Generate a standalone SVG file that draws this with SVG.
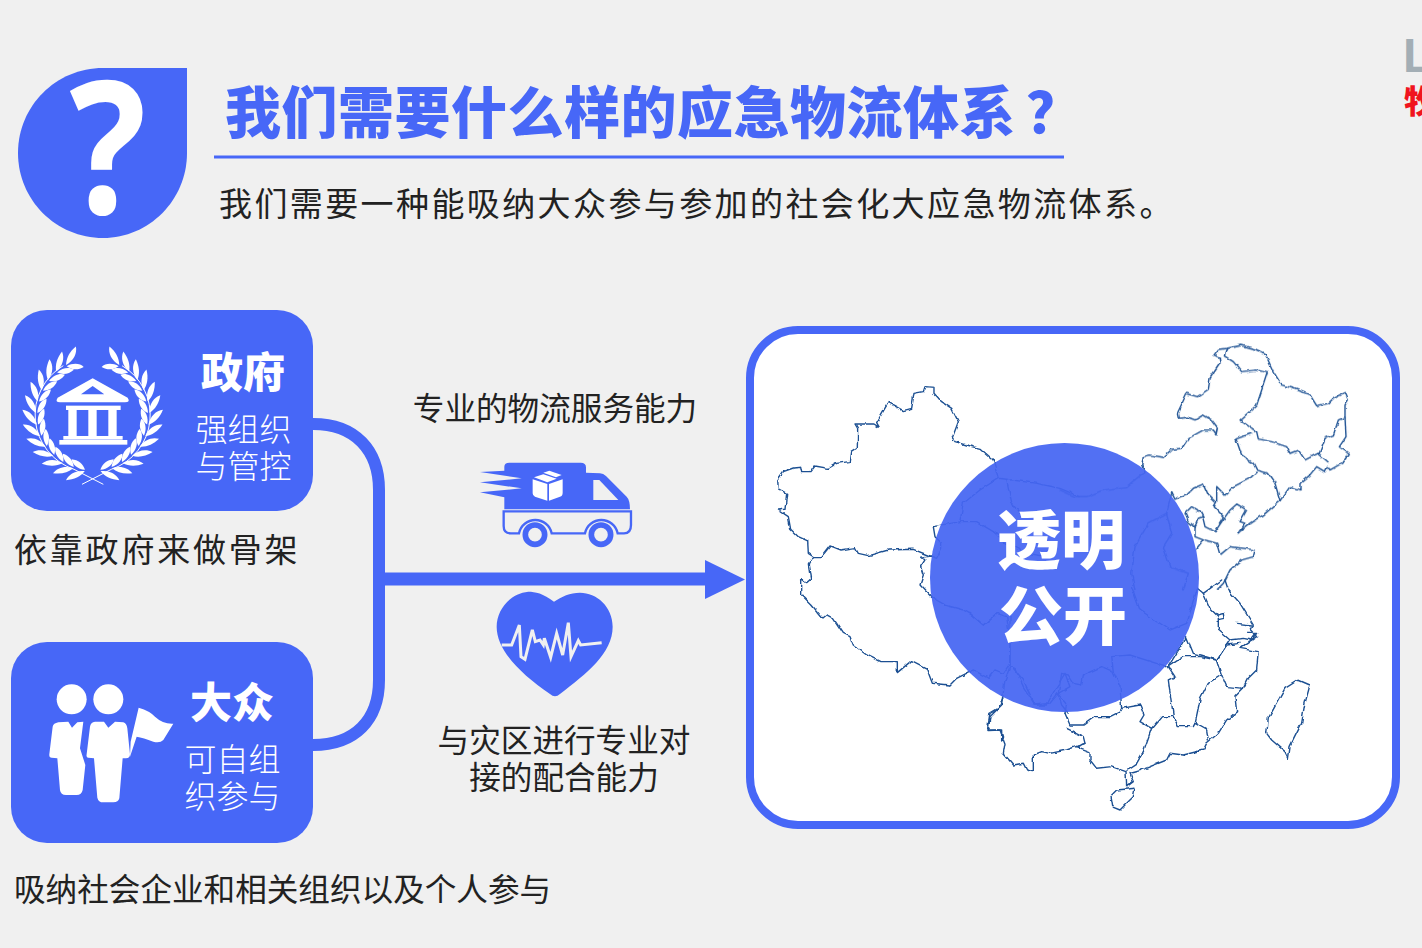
<svg xmlns="http://www.w3.org/2000/svg" xmlns:xlink="http://www.w3.org/1999/xlink" width="1422" height="948" viewBox="0 0 1422 948">
<style>
.cjk{font-family:"Noto Sans CJK SC","Noto Sans",sans-serif}
.blue{fill:#4767f7}
.wh{fill:#fff}
.bg{fill:#f0f0f0}
.body{font-size:33px;fill:#222}
.tight{font-size:31.600px;fill:#222}
.nt{font-size:42px;font-weight:900;fill:#fff}
.ns{font-size:32px;fill:#fff;font-weight:300}
.m{fill:none;stroke:#1c5092;stroke-width:4.200;stroke-linejoin:round;stroke-linecap:round}
.link{fill:none;stroke:#4767f7}
</style>
<defs>
<filter id="rough" filterUnits="userSpaceOnUse" x="760" y="335" width="620" height="485">
<feTurbulence type="fractalNoise" baseFrequency="0.13" numOctaves="2" seed="4" result="n"/>
<feDisplacementMap in="SourceGraphic" in2="n" scale="4" xChannelSelector="R" yChannelSelector="G"/>
</filter>
<g id="pair">
<path d="M278,515C268,533 250,545 226,550C232,530 252,515 278,515Z" fill="#fff"/>
<path d="M278,511C270,494 254,484 234,485C238,500 256,512 278,511Z" fill="#fff"/>
</g>
<g id="branch">
<path d="M310,553L222,508A172,172 0 0 1 190,197" fill="none" stroke="#fff" stroke-width="3"/>
<use href="#pair" transform="rotate(8 278 345)"/><use href="#pair" transform="rotate(20 278 345)"/>
<use href="#pair" transform="rotate(32 278 345)"/><use href="#pair" transform="rotate(44 278 345)"/>
<use href="#pair" transform="rotate(56 278 345)"/><use href="#pair" transform="rotate(68 278 345)"/>
<use href="#pair" transform="rotate(80 278 345)"/><use href="#pair" transform="rotate(92 278 345)"/>
<use href="#pair" transform="rotate(104 278 345)"/><use href="#pair" transform="rotate(116 278 345)"/>
<use href="#pair" transform="rotate(128 278 345)"/><use href="#pair" transform="rotate(140 278 345)"/>
<use href="#pair" transform="rotate(152 278 345)"/>
</g>
</defs>
<rect width="1422" height="948" class="bg"/>

<g id="corner-mark">
<text x="1403" y="72" font-family="Liberation Sans,sans-serif" font-weight="700" font-size="48" fill="#a3aeb5">L</text>
<text x="1404" y="113" class="cjk" font-weight="900" font-size="32" fill="#f0141e">牧</text>
</g>

<g id="header">
<path class="blue" d="M103,68H187V153C187,200 149,238 103,238C56,238 18,200 18,153C18,106 56,68 103,68Z"/>
<text transform="translate(108,214) scale(.87,1)" text-anchor="middle" font-family="Open Sans,sans-serif" font-weight="700" font-size="185" fill="#fff">?</text>
<text x="225" y="133" class="cjk blue" font-size="56" font-weight="900" letter-spacing=".5">我们需要什么样的应急物流体系<tspan x="1026">？</tspan></text>
<rect x="214" y="155.500" width="850" height="3" class="blue"/>
<text x="219" y="216" class="cjk body" letter-spacing="2.400">我们需要一种能吸纳大众参与参加的社会化大应急物流体系。</text>
</g>

<g id="connectors">
<path class="link" stroke-width="12" d="M313,424C355,424 379,450 379,490V680C379,720 355,745 313,745"/>
<path class="link" stroke-width="13" d="M380,579H707"/>
<path class="blue" d="M705,560L745,579.500L705,599Z"/>
</g>

<g id="node-gov">
<rect x="11" y="310" width="302" height="201" rx="36" class="blue"/>
<g transform="translate(0,300) scale(.3333)">
<use href="#branch"/>
<use href="#branch" transform="translate(556,0) scale(-1,1)"/>
<path fill="#fff" fill-rule="evenodd" d="M278,235L383,293Q392,307 375,307H180Q164,307 173,293ZM278,258L243,283H313Z"/>
<rect x="198" y="317" width="164" height="13" fill="#fff"/>
<rect x="205" y="328" width="25" height="82" fill="#fff"/><rect x="265" y="328" width="25" height="82" fill="#fff"/><rect x="325" y="328" width="25" height="82" fill="#fff"/>
<rect x="190" y="408" width="178" height="11" fill="#fff"/><rect x="178" y="420" width="204" height="14" fill="#fff"/>
</g>
<text x="243" y="388" text-anchor="middle" class="cjk nt">政府</text>
<text x="243.500" y="441" text-anchor="middle" class="cjk ns">强组织</text>
<text x="243.500" y="478" text-anchor="middle" class="cjk ns">与管控</text>
</g>
<text x="14" y="562" class="cjk body" letter-spacing="2.800">依靠政府来做骨架</text>

<g id="node-public">
<rect x="11" y="642" width="302" height="201" rx="36" class="blue"/>
<g transform="translate(0,635) scale(.3333)" fill="#fff">
<circle cx="215" cy="193" r="45"/><circle cx="325" cy="193" r="45"/>
<path d="M175,262L205,260L216,278L232,262L250,260L240,340L256,390L248,465Q245,480 230,480H198Q182,480 180,465L172,370L155,368Q147,368 148,358L158,275Q160,265 175,262Z"/>
<path d="M285,260L312,260L325,278L345,260L370,262Q380,265 382,280L390,358Q390,370 378,370H368L358,490Q355,502 340,502H310Q295,502 292,488L282,370L265,368Q258,368 260,358L270,275Q272,262 285,260Z"/>
<path d="M392,320L416,218Q450,228 465,245Q490,268 520,266L490,315Q480,325 460,320Q430,308 410,305L390,365Z"/>
</g>
<text x="232" y="718" text-anchor="middle" class="cjk nt">大众</text>
<text x="232.500" y="771" text-anchor="middle" class="cjk ns">可自组</text>
<text x="232.500" y="808" text-anchor="middle" class="cjk ns">织参与</text>
</g>
<text x="14" y="901" class="cjk tight">吸纳社会企业和相关组织以及个人参与</text>

<g id="label-logistics">
<text x="555" y="419.500" text-anchor="middle" class="cjk tight">专业的物流服务能力</text>
<g transform="translate(460,450) scale(.3333)">
<path class="blue" d="M133,50Q133,38 148,38H362Q378,38 378,52V68L420,70Q430,70 438,78L500,140Q510,150 510,178H133V142L60,127L185,115L60,97L185,85L60,66L133,62Z"/>
<path class="bg" d="M400,90H418L475,150H400Z"/>
<g fill="#fff"><path d="M218,88L262,102V152L225,140Q218,138 218,130Z"/><path d="M267,102L308,88V128Q308,138 300,140L267,152Z"/><path d="M222,82L250,73L290,86L262,97Z"/><path d="M250,68L268,62L305,75L288,82Z"/></g>
<path d="M131,184H513V225Q513,250 492,250H473A50,50 0 0 0 375,250H275A50,50 0 0 0 177,250H152Q131,250 131,228Z" fill="none" stroke="#4767f7" stroke-width="7"/>
<circle cx="225" cy="254" r="29" fill="none" stroke="#4767f7" stroke-width="17"/>
<circle cx="423" cy="254" r="29" fill="none" stroke="#4767f7" stroke-width="17"/>
</g>
</g>

<g id="label-coordination">
<g transform="translate(460,450) scale(.3333)">
<path class="blue" d="M282,455C250,430 225,425 205,425C150,430 110,480 110,530C110,600 180,670 270,732Q285,745 300,732C380,670 458,610 458,530C458,470 410,428 360,428C330,428 305,440 282,455Z"/>
<path d="M125,585H155L178,525L183,620L195,628L217,540L226,575L240,570L250,585L253,565L272,622L290,550L308,615L325,518L333,620L355,572L362,585L425,578" fill="none" stroke="#f0f0f0" stroke-width="9" stroke-linejoin="miter"/>
</g>
<text x="564" y="751.500" text-anchor="middle" class="cjk tight">与灾区进行专业对</text>
<text x="564" y="788.500" text-anchor="middle" class="cjk tight">接的配合能力</text>
</g>

<g id="node-china">
<rect x="750" y="330" width="646" height="495" rx="48" fill="#fff" stroke="#4767f7" stroke-width="8"/>
<g id="map" filter="url(#rough)">
<g id="map-west" transform="translate(760,340) scale(.3333)">
<path class="m" d="M700,360L660,325L620,315L585,305L577,293L595,245L575,205L545,185L522,160L522,142L495,140L490,155L462,160L455,205L430,212L385,187L350,248L358,262L342,252L285,252L293,265L292,322L272,335L268,365L230,370L205,385L165,378L150,398L125,398L122,382L100,384L70,395L53,420L55,447L80,460L75,508L55,510L85,530L92,568L115,590L143,603L145,640L160,650L185,650L210,618L240,630L285,623L295,640L325,647L385,630L460,628L510,648"/>
<path class="m" d="M160,650L145,675L152,718L140,728L125,716L125,765L155,795L188,835L200,825L220,835L250,880L270,890L280,915L320,945L360,965L412,965L412,998L455,962L500,985L517,1030L570,1035L590,1015L640,990L685,1015L705,990L730,1000L750,970"/>
<path class="m" d="M520,560L525,590L545,610L545,625L530,655L510,648L485,652L495,660L482,680L490,705L480,735L515,772L555,795L610,810L635,825L670,855L710,820L740,830L750,900V970"/>
<path class="m" d="M520,560L600,545L650,545L700,575L740,610L800,640L860,650"/>
<path class="m" d="M700,360L715,415L740,418L830,430L900,445L960,470M715,415L660,450L610,490L600,545M740,418L755,490L780,520"/>
<path class="m" d="M730,1075L715,1105L690,1120L683,1170L725,1170L725,1200"/>
<path class="m" d="M760,985L790,1020L825,1095L860,1095L890,1040L915,1000L930,1040L895,1060L905,1095L925,1120"/>
</g>
<g id="map-north" transform="translate(1060,340) scale(.3333)">
<path class="m" d="M245,375L250,350L270,345L310,352L335,328L365,325L385,295L430,270L460,270L468,282L472,262L455,240L430,225L405,240L385,232L355,235L352,220L380,160L412,170L445,148L450,115L480,70L478,52L462,45L475,28L500,25L545,16L590,28L615,40L640,95L665,135L700,145L750,165L770,197L805,190L820,175L855,157L865,180L855,195L855,232L858,290L838,320L865,340L845,370L810,390L803,380L795,395L770,380L750,405L720,430L720,450L690,440L660,482L610,525L565,555L535,578L555,550L540,545L560,510L530,492L510,510L485,545L465,575L435,560L428,530L420,515L395,500L375,520L385,545L405,560L405,590L430,600L410,625"/>
<path class="m" d="M500,25L493,48L520,65L545,95L590,90L622,98L605,150L590,195L540,240L575,265L590,275L595,297L635,305L680,320L690,340L715,330L735,360L775,340L803,365"/>
<path class="m" d="M575,280L528,297L545,345L580,370L590,390L625,400L645,430L660,482"/>
<path class="m" d="M590,395L570,415L520,440L495,465L470,440L470,485L462,500L490,530L478,550"/>
<path class="m" d="M335,458L345,478L385,460L400,445L430,432L445,465L465,485"/>
<path class="m" d="M855,232L835,240L820,285L795,295L778,340"/>
<path class="m" d="M405,560L415,535L428,530"/>
<path class="m" d="M435,600L470,610L480,645L510,620L585,630L580,650L545,660L510,690L490,730L475,745"/>
<path class="m" d="M245,375L255,395L200,440L130,450L80,470L45,470L0,450M335,458L320,520L265,550L225,620L215,700L225,750M320,520L335,580L310,620L330,680L385,700L370,750"/>
</g>
<g id="map-south" transform="translate(970,580) scale(.3333)">
<path class="m" d="M765,0L775,30L810,70L850,135L840,148L860,170L830,190L810,205L865,215L860,270L835,295L820,325L795,350L800,395L770,420L745,460L710,490L700,510L640,525L600,520L590,540L510,572L480,580L490,605L470,620L468,575L425,560L380,565L360,540L360,515L320,500"/>
<path class="m" d="M345,490L290,510L240,520L215,515L190,525L190,575L170,570L160,550L130,555L100,520L105,490L90,450L55,452L60,410L95,375L105,300"/>
<path class="m" d="M285,400L300,435L340,435L375,410L420,410L450,395L455,385L510,375L522,405L510,425L545,445L520,515L500,550L470,570"/>
<path class="m" d="M290,445L340,470L345,490L320,500"/>
<path class="m" d="M545,445L575,410L610,410L625,440L670,440L675,430L710,450L715,480"/>
<path class="m" d="M610,410L595,300L615,290L595,260L640,230L690,230L740,240L755,285L715,310L690,360L675,430"/>
<path class="m" d="M755,285L770,320L820,325"/>
<path class="m" d="M740,240L770,195L810,190"/>
<path class="m" d="M595,260L650,170L670,220L690,225L740,240"/>
<path class="m" d="M740,240L780,180L745,150L745,110L720,85L700,40L682,25"/>
<path class="m" d="M700,40L735,15L755,0"/>
<path class="m" d="M830,160H860L845,180L820,175L780,180"/>
<path class="m" d="M800,130L845,135M745,105L760,100L762,115L748,118"/>
<path class="m" d="M420,650L440,630L495,625L490,650L470,670L450,690L425,680Z"/>
<path class="m" d="M985,300L1020,315L1005,370L995,430L960,500L955,535L945,515L905,480L890,460L895,415L945,325Z"/>
<path class="m" d="M105,300L120,260L135,265L160,320L195,375L240,370L265,340L275,280L295,285L310,310L335,315L340,285L395,260L430,275L450,320L455,385"/>
<path class="m" d="M285,400L290,370L265,340M120,260V100M430,275L425,230L480,225L590,260M0,100L40,135L80,100M485,20L510,90L600,150L650,130L682,25"/>
</g>
</g>
<circle cx="1064.500" cy="577.500" r="134.500" fill="#4565f2" fill-opacity=".93"/>
<text x="1061" y="563" text-anchor="middle" class="cjk" font-size="64" font-weight="900" fill="#fff">透明</text>
<text x="1063" y="639" text-anchor="middle" class="cjk" font-size="64" font-weight="900" fill="#fff">公开</text>
</g>
</svg>
